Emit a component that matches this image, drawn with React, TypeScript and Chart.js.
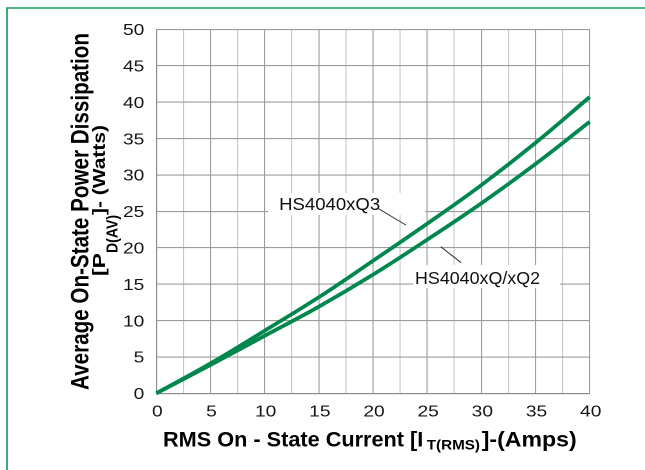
import { useEffect, useRef } from "react";
import { Chart, registerables } from "chart.js";

Chart.register(...registerables);

// ---- data ----
const currentAmps = [0, 5, 10, 15, 20, 25, 30, 35, 40];
const q3Watts = [0, 4.1, 8.6, 13.2, 18.2, 23.3, 28.6, 34.4, 40.7];
const q2Watts = [0, 3.9, 7.9, 11.9, 16.3, 21.1, 26.1, 31.5, 37.3];
const xTickLabels = [0, 5, 10, 15, 20, 25, 30, 35, 40];
const yTickLabels = [0, 5, 10, 15, 20, 25, 30, 35, 40, 45, 50];
const seriesNames = ["HS4040xQ3", "HS4040xQ/xQ2"];

const GREEN = "#00874e";
const FRAME_GREEN = "#139458";
const GRID_MAJOR = "#9c9c9c";
const GRID_MINOR = "#c8c8c8";
const FONT = "'Liberation Sans', Arial, sans-serif";

// callout labels, anchored in data units (left/baseline of text), leader ends in data units
const callouts = [
  {
    text: seriesNames[0],
    at: [11.34, 25.18],
    width: 101,
    box: [-11, -17, 157, 22],
    leader: [
      [20.47, 25.4],
      [23.05, 23.1],
    ],
  },
  {
    text: seriesNames[1],
    at: [23.88, 15.01],
    width: 125,
    box: [-2, -19, 147, 23],
    leader: [
      [26.25, 20.14],
      [28.13, 17.94],
    ],
  },
];

function fitText(
  ctx: CanvasRenderingContext2D,
  text: string,
  font: string,
  start: number,
  end: number,
  baseline: number,
  sy: number,
  vertical: boolean
) {
  ctx.save();
  ctx.font = font;
  const w = ctx.measureText(text).width;
  const len = Math.abs(end - start);
  if (vertical) {
    ctx.translate(baseline, start);
    ctx.rotate(-Math.PI / 2);
  } else {
    ctx.translate(start, baseline);
  }
  ctx.scale(len / w, sy);
  ctx.textAlign = "left";
  ctx.textBaseline = "alphabetic";
  ctx.fillText(text, 0, 0);
  ctx.restore();
}

const overlayPlugin = {
  id: "overlay",
  beforeDatasetsDraw(chart: any) {
    const ctx: CanvasRenderingContext2D = chart.ctx;
    const xs = chart.scales.x;
    const ys = chart.scales.y;
    ctx.save();
    ctx.fillStyle = "#ffffff";
    for (const c of callouts) {
      const px = xs.getPixelForValue(c.at[0]);
      const py = ys.getPixelForValue(c.at[1]);
      ctx.fillRect(px + c.box[0], py + c.box[1], c.box[2], c.box[3]);
    }
    ctx.restore();
  },
  afterDraw(chart: any) {
    const ctx: CanvasRenderingContext2D = chart.ctx;
    const xs = chart.scales.x;
    const ys = chart.scales.y;
    const area = chart.chartArea;

    // outer green frame (left + top visible)
    ctx.save();
    ctx.strokeStyle = FRAME_GREEN;
    ctx.lineWidth = 1.6;
    ctx.beginPath();
    ctx.moveTo(7, 470);
    ctx.lineTo(7, 8);
    ctx.lineTo(645, 8);
    ctx.stroke();
    ctx.restore();

    // callout text + leaders
    ctx.save();
    ctx.fillStyle = "#111111";
    for (const c of callouts) {
      const px = xs.getPixelForValue(c.at[0]);
      const py = ys.getPixelForValue(c.at[1]);
      fitText(ctx, c.text, `17.5px ${FONT}`, px, px + c.width, py, 1, false);
      ctx.strokeStyle = "#333333";
      ctx.lineWidth = 1;
      ctx.beginPath();
      ctx.moveTo(xs.getPixelForValue(c.leader[0][0]), ys.getPixelForValue(c.leader[0][1]));
      ctx.lineTo(xs.getPixelForValue(c.leader[1][0]), ys.getPixelForValue(c.leader[1][1]));
      ctx.stroke();
    }
    ctx.restore();

    // tick labels
    ctx.save();
    ctx.fillStyle = "#151515";
    ctx.font = `16px ${FONT}`;
    ctx.textBaseline = "alphabetic";
    ctx.textAlign = "right";
    for (const v of yTickLabels) {
      const py = ys.getPixelForValue(v);
      ctx.save();
      ctx.translate(area.left - 12, py + 5.8);
      ctx.scale(1.2, 1);
      ctx.fillText(String(v), 0, 0);
      ctx.restore();
    }
    ctx.textAlign = "center";
    for (const v of xTickLabels) {
      const px = xs.getPixelForValue(v);
      ctx.save();
      ctx.translate(px + 1, area.bottom + 23.4);
      ctx.scale(1.2, 1);
      ctx.fillText(String(v), 0, 0);
      ctx.restore();
    }
    ctx.restore();

    // axis titles
    ctx.save();
    ctx.fillStyle = "#000000";
    const bold = (s: number) => `bold ${s}px ${FONT}`;
    // x title
    fitText(ctx, "RMS On - State Current [I", bold(21), 163, 423.3, 446.7, 1, false);
    fitText(ctx, "T(RMS)", bold(14), 426.7, 480, 449.5, 1, false);
    fitText(ctx, "]-(Amps)", bold(21), 481.7, 576.7, 446.7, 1, false);
    // y title, line 1
    fitText(ctx, "Average On-State Power Dissipation", bold(21), 390, 33, 88.3, 1.2, true);
    // y title, line 2
    fitText(ctx, "[P", bold(21), 276, 253, 105, 0.85, true);
    fitText(ctx, "D(AV)", bold(15.5), 253, 215, 117.5, 1.0, true);
    fitText(ctx, "]- (Watts)", bold(21), 215, 125, 105, 0.85, true);
    ctx.restore();
  },
};

export default function App() {
  const canvasRef = useRef<HTMLCanvasElement | null>(null);

  useEffect(() => {
    if (!canvasRef.current) return;
    const chart = new Chart(canvasRef.current, {
      type: "line",
      data: {
        datasets: [
          {
            label: seriesNames[0],
            data: currentAmps.map((x, i) => ({ x, y: q3Watts[i] })),
            borderColor: GREEN,
            borderWidth: 3.8,
            pointRadius: 0,
            tension: 0.4,
            fill: false,
            clip: false as any,
          },
          {
            label: seriesNames[1],
            data: currentAmps.map((x, i) => ({ x, y: q2Watts[i] })),
            borderColor: GREEN,
            borderWidth: 3.8,
            pointRadius: 0,
            tension: 0.4,
            fill: false,
            clip: false as any,
          },
        ],
      },
      options: {
        animation: false,
        responsive: false,
        devicePixelRatio: 2,
        layout: {
          autoPadding: false,
          padding: { left: 156.3, top: 29.3, right: 55.3, bottom: 76.7 },
        },
        plugins: {
          legend: { display: false },
          tooltip: { enabled: false },
          title: { display: false },
        },
        scales: {
          x: {
            type: "linear",
            min: 0,
            max: 40,
            ticks: { display: false, stepSize: 2.5 },
            grid: {
              drawTicks: false,
              lineWidth: 1.1,
              color: (c: any) =>
                c.tick && Math.abs(c.tick.value % 5) < 1e-6 ? GRID_MAJOR : GRID_MINOR,
            },
            border: { display: true, color: "#8c8c8c", width: 1.1 },
          },
          y: {
            type: "linear",
            min: 0,
            max: 50,
            ticks: { display: false, stepSize: 5 },
            grid: { drawTicks: false, lineWidth: 1.1, color: GRID_MAJOR },
            border: { display: true, color: "#8c8c8c", width: 1.1 },
          },
        },
      },
      plugins: [overlayPlugin],
    });
    return () => chart.destroy();
  }, []);

  return (
    <div style={{ position: "fixed", left: 0, top: 0, width: 645, height: 470, background: "#fff" }}>
      <canvas
        ref={canvasRef}
        width={645}
        height={470}
        style={{ display: "block", width: 645, height: 470 }}
      />
    </div>
  );
}
